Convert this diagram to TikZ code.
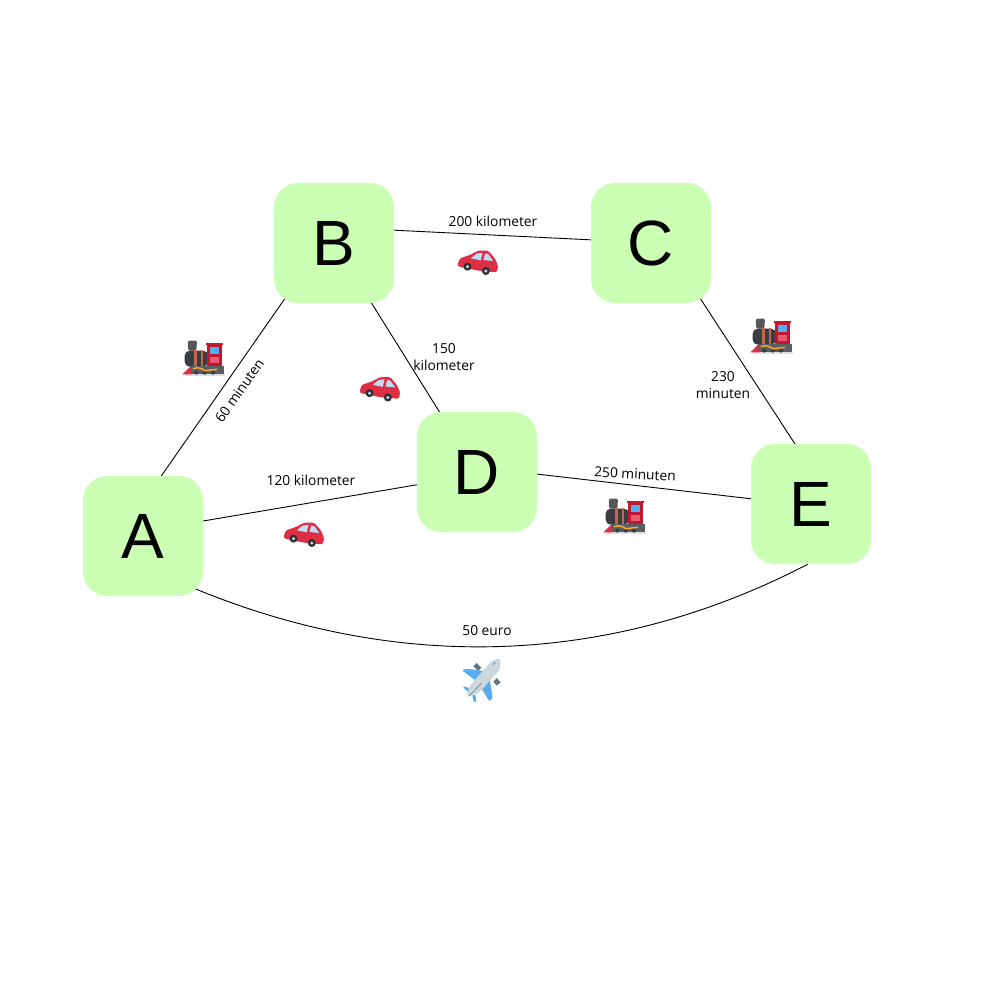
\documentclass[tikz,border=0pt]{standalone}
\usepackage{fontspec}
\setmainfont{Open Sans}
\newfontfamily\bigfont{Liberation Sans}
\usetikzlibrary{backgrounds}
\definecolor{nodegreen}{HTML}{CAFFB4}
\definecolor{tdark}{HTML}{3A3D40}
\definecolor{tstack}{HTML}{55585B}
\definecolor{tgray}{HTML}{5A5F63}
\definecolor{tred}{HTML}{BE1931}
\definecolor{tpink}{HTML}{EA596E}
\definecolor{tblue}{HTML}{55ACEE}
\definecolor{tbrown}{HTML}{C1694F}
\definecolor{tgold}{HTML}{FFAC33}
\definecolor{cred}{HTML}{DD2E44}
\definecolor{clight}{HTML}{BBDDF5}
\definecolor{cwheel}{HTML}{292F33}
\definecolor{pgray}{HTML}{CCD6DD}
\definecolor{pdark}{HTML}{66757F}
\tikzset{
  place/.style={draw=none,fill=nodegreen,rounded corners=24pt,minimum width=120pt,minimum height=120pt,inner sep=0pt,font=\bigfont\fontsize{64}{64}\selectfont},
  link/.style={draw=black,line width=0.9pt},
  inlink/.style={link,shorten <=-12pt,shorten >=-12pt},
  lbl/.style={font=\fontsize{13.8}{16.5}\selectfont,align=center,inner sep=0pt},
  trainicon/.pic={
    \begin{scope}[x=0.3333pt,y=-0.3333pt,shift={(-40,-30)}]
      \fill[black!12] (45,133) rectangle (165,138);
      \fill[tstack,rounded corners=1.5pt] (56,62) -- (54,32) -- (82,32) -- (80,62) -- cycle;
      \fill[tdark,rounded corners=5pt] (45,110) -- (45,62) -- (115,62) -- (115,110) -- cycle;
      \fill[tbrown] (74,60) rectangle (81,110);
      \fill[tbrown] (94,60) rectangle (101,110);
      \fill[tred] (112,40) rectangle (158,112);
      \fill[tred] (110,38) rectangle (160,44);
      \fill[tblue] (122,50) rectangle (148,72);
      \fill[tpink] (122,80) rectangle (148,98);
      \fill[tgray] (62,108) rectangle (162,133);
      \fill[tdark] (80,128) circle (6);
      \fill[tdark] (105,128) circle (6);
      \fill[tdark] (130,128) circle (6);
      \draw[tgold,line width=1.4pt] (70,116) .. controls (85,111) and (95,114) .. (105,122) -- (142,118);
      \fill[cred] (38,133) -- (62,110) -- (66,133) -- cycle;
    \end{scope}
  },
  caricon/.pic={
    \begin{scope}[x=0.3333pt,y=-0.3333pt,shift={(-38,-30)}]
      \fill[cred,rounded corners=1.5pt] (38,75) -- (45,55) -- (75,45) -- (100,32) -- (130,32) -- (150,55) -- (160,78) -- (156,97) -- (100,92) -- (42,80) -- cycle;
      \fill[clight] (78,55) -- (95,41) -- (113,38) -- (108,61) -- cycle;
      \fill[clight] (116,60) -- (121,40) -- (131,43) -- (145,63) -- cycle;
      \fill[cwheel] (68,80) circle (12);
      \fill[pgray] (68,80) circle (5);
      \fill[cwheel] (123,93) circle (12);
      \fill[pgray] (123,93) circle (5);
    \end{scope}
  },
  planeicon/.pic={
    \begin{scope}[x=0.3333pt,y=-0.3333pt,shift={(-36,-28)}]
      \fill[pdark] (70,50) -- (80,40) -- (94,54) -- (84,64) -- cycle;
      \fill[pdark] (130,96) -- (140,85) -- (152,98) -- (140,108) -- cycle;
      \fill[tblue,rounded corners=1pt] (36,62) -- (48,57) -- (108,65) -- (80,95) -- cycle;
      \fill[tblue,rounded corners=1pt] (118,82) -- (128,145) -- (118,155) -- (92,112) -- cycle;
      \fill[tblue,rounded corners=1pt] (38,112) -- (45,110) -- (70,122) -- (65,135) -- cycle;
      \fill[tblue,rounded corners=1pt] (65,125) -- (78,140) -- (78,158) -- (70,155) -- cycle;
      \fill[pgray,rounded corners=3pt] (152,26) -- (126,32) -- (58,110) -- (50,144) -- (84,132) -- (150,60) -- cycle;
      \draw[pdark,line width=0.5pt] (58,138) -- (95,100);
      \draw[pdark,line width=0.6pt] (128,45) -- (136,38);
    \end{scope}
  }
}
\begin{document}
\begin{tikzpicture}[x=1pt,y=-1pt]
\useasboundingbox (0,0) rectangle (1000,1000);
\node[place] (A) at (143,536) {A};
\node[place] (B) at (334,243) {B};
\node[place] (C) at (651,243) {C};
\node[place] (D) at (477,472) {D};
\node[place] (E) at (811,504) {E};
\begin{scope}[on background layer]
  \draw[inlink] (A.73.3) -- (B.229.9);
  \draw[inlink] (B.12.2) -- (C.177.1);
  \draw[inlink] (B.302) -- (D.122.4);
  \draw[inlink] (A.14.9) -- (D.192.2);
  \draw[inlink] (D.-2.9) -- (E.175.2);
  \draw[inlink] (C.-49.5) -- (E.105.8);
  \draw[link,shorten <=-12pt] (A.-43) .. controls (395,672) and (608,668) .. (E.267.1);
\end{scope}
\node[lbl] (l1) at (493,221) {200 kilometer};
\node[lbl] (l2) at (444,357) {150\\kilometer};
\node[lbl,rotate=55] (l3) at (239.5,390.5) {60 minuten};
\node[lbl] (l4) at (311,480) {120 kilometer};
\node[lbl] (l5) at (723,385) {230\\minuten};
\node[lbl,rotate=-3] (l6) at (635,474) {250 minuten};
\node[lbl] (l7) at (487,631) {50 euro};
\pic (t1) at (183,340) {trainicon};
\pic (t2) at (751,318) {trainicon};
\pic (t3) at (604,498) {trainicon};
\pic (c1) at (457.5,250) {caricon};
\pic (c2) at (359.5,376.5) {caricon};
\pic (c3) at (283.5,522) {caricon};
\pic (p1) at (462,659) {planeicon};
\end{tikzpicture}
\end{document}
